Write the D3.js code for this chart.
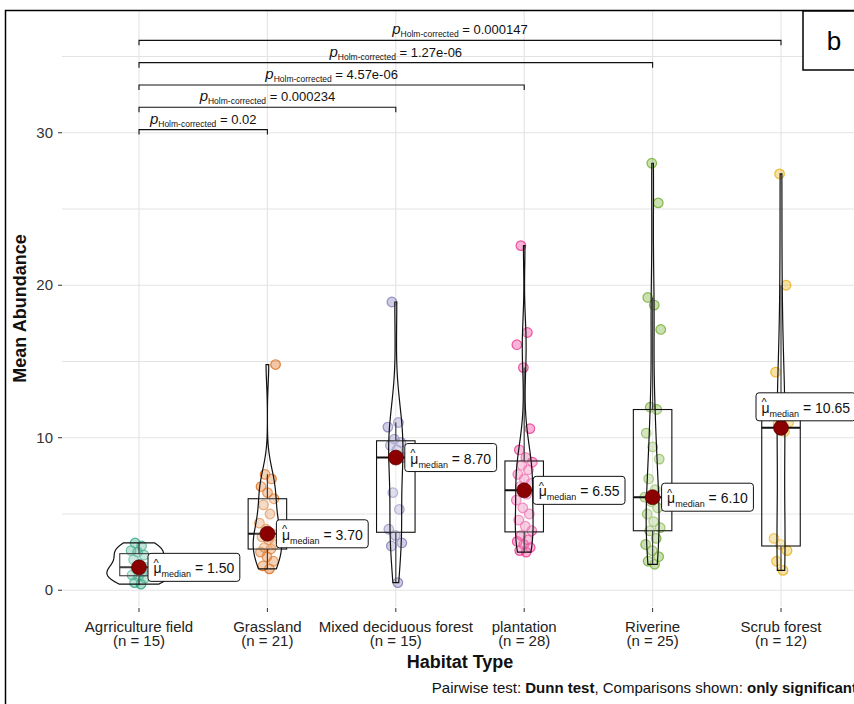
<!DOCTYPE html>
<html>
<head>
<meta charset="utf-8">
<script src="https://cdn.jsdelivr.net/npm/d3@7"></script>
<style>
  body { margin: 0; background: #fff; }
  svg { display: block; font-family: "Liberation Sans", Arial, sans-serif; }
</style>
</head>
<body>
<div id="chart"></div>
<script>
// data

const categories = ['Agrriculture field', 'Grassland', 'Mixed deciduous forest', 'plantation', 'Riverine', 'Scrub forest']

const agriculture = [0.4, 0.5, 0.8, 0.9, 1.0, 1.2, 1.4, 1.5, 1.7, 2.0, 2.3, 2.5, 2.6, 2.9, 3.1]
const grassland = [1.4, 1.6, 1.9, 2.2, 2.5, 2.7, 2.8, 3.0, 3.3, 3.5, 3.7, 4.0, 4.4, 5.0, 5.6, 6.0, 6.4, 6.8, 7.3, 7.6, 14.8]
const mixed = [0.5, 2.9, 3.1, 3.6, 4.0, 5.3, 6.4, 8.7, 9.2, 9.5, 9.7, 9.9, 10.7, 11.0, 18.9]
const plantation = [2.5, 2.6, 2.8, 3.0, 3.2, 3.3, 3.6, 3.9, 4.2, 4.6, 5.0, 5.4, 5.9, 6.3, 6.8, 7.0, 7.3, 7.6, 7.9, 8.2, 8.4, 8.7, 9.2, 10.6, 14.6, 16.1, 16.9, 22.6]
const riverine = [1.7, 1.9, 2.2, 2.6, 3.0, 3.4, 3.9, 4.1, 4.5, 5.0, 5.4, 5.8, 6.1, 6.6, 7.3, 8.6, 9.4, 10.3, 11.85, 12.0, 17.1, 18.7, 19.2, 25.4, 28.0]
const scrub = [1.3, 1.9, 2.6, 3.0, 3.4, 10.4, 10.9, 11.0, 11.2, 14.3, 20.0, 27.3]

const groupValues = [agriculture, grassland, mixed, plantation, riverine, scrub]
const groupColors = ['#1B9E77', '#D95F02', '#7570B3', '#E7298A', '#66A61E', '#E6AB02']

const yTicks = [0, 10, 20, 30]
const yMinorTicks = [5, 15, 25, 35]

// significant pairwise comparisons (Dunn test, Holm corrected)
const pairFrom = [0, 0, 0, 0, 0]
const pairTo = [1, 2, 3, 4, 5]
const pairLabels = ['0.02', '0.000234', '4.57e-06', '1.27e-06', '0.000147']

const WIDTH = 854
const HEIGHT = 704
const PANEL = { left: 62, right: 858, top: 10, bottom: 607 }

let svg = d3.select('#chart')
  .append('svg')
    .attr('width', WIDTH)
    .attr('height', HEIGHT)

let x = d3.scalePoint()
  .domain(categories)
  .range([139, 781])

let step = x.step()

let y = d3.scaleLinear()
  .domain([-1.1, 38.05])
  .range([PANEL.bottom, PANEL.top])

// grid

let grid = svg.append('g').attr('class', 'grid')

grid.selectAll('.hgrid')
  .data(yTicks.concat(yMinorTicks))
  .enter().append('line')
    .attr('x1', PANEL.left)
    .attr('x2', PANEL.right)
    .attr('y1', (d) => y(d))
    .attr('y2', (d) => y(d))
    .attr('stroke', '#e3e3e3')
    .attr('stroke-width', 1.1)

grid.selectAll('.vgrid')
  .data(categories)
  .enter().append('line')
    .attr('x1', (d) => x(d))
    .attr('x2', (d) => x(d))
    .attr('y1', PANEL.top)
    .attr('y2', PANEL.bottom)
    .attr('stroke', '#e3e3e3')
    .attr('stroke-width', 1.1)

// group statistics

function nrd0(v) {
  let s = d3.deviation(v)
  let iqr = d3.quantile(v, 0.75) - d3.quantile(v, 0.25)
  let lo = Math.min(s, iqr / 1.34)
  if(!lo) lo = s || 1
  return 0.9 * lo * Math.pow(v.length, -0.2)
}

let groups = categories.map((name, i) => {
  let v = groupValues[i].slice().sort(d3.ascending)
  let q1 = d3.quantile(v, 0.25)
  let med = d3.quantile(v, 0.5)
  let q3 = d3.quantile(v, 0.75)
  let iqr = q3 - q1
  let lower = d3.min(v.filter((d) => d >= q1 - 1.5 * iqr))
  let upper = d3.max(v.filter((d) => d <= q3 + 1.5 * iqr))
  let bw = nrd0(v)
  let lo = v[0], hi = v[v.length - 1]
  let density = d3.range(512).map((k) => {
    let t = lo + (hi - lo) * k / 511
    let dens = d3.mean(v, (xi) => Math.exp(-0.5 * ((t - xi) / bw) ** 2)) / (bw * Math.sqrt(2 * Math.PI))
    return [t, dens]
  })
  return { name, i, values: groupValues[i], q1, med, q3, lower, upper, density, color: groupColors[i] }
})

let maxDensity = d3.max(groups, (g) => d3.max(g.density, (d) => d[1]))
let violinHalf = d3.scaleLinear().domain([0, maxDensity]).range([0, step * 0.25])
let boxHalf = step * 0.15

// jittered points

let jitter = (k) => (((k * 0.6180339887) % 1) - 0.5) * 17

let pts = svg.append('g').attr('class', 'points')
groups.forEach((g) => {
  pts.selectAll('.pt-' + g.i)
    .data(g.values)
    .enter().append('circle')
      .attr('cx', (d, k) => x(g.name) + jitter(k + 1))
      .attr('cy', (d) => y(d))
      .attr('r', 4.8)
      .attr('fill', g.color)
      .attr('fill-opacity', 0.35)
      .attr('stroke', g.color)
      .attr('stroke-opacity', 0.75)
      .attr('stroke-width', 1.2)
})

// boxplots

let boxes = svg.append('g').attr('class', 'boxes')
  .selectAll('.box')
  .data(groups)
  .enter().append('g')
    .attr('transform', (d) => 'translate(' + x(d.name) + ',0)')

boxes.append('line')
  .attr('y1', (d) => y(d.q3))
  .attr('y2', (d) => y(d.upper))
  .attr('stroke', '#111')
  .attr('stroke-width', 1.2)
boxes.append('line')
  .attr('y1', (d) => y(d.q1))
  .attr('y2', (d) => y(d.lower))
  .attr('stroke', '#111')
  .attr('stroke-width', 1.2)
boxes.append('rect')
  .attr('x', -boxHalf)
  .attr('width', boxHalf * 2)
  .attr('y', (d) => y(d.q3))
  .attr('height', (d) => y(d.q1) - y(d.q3))
  .attr('fill', 'white')
  .attr('fill-opacity', 0.2)
  .attr('stroke', '#111')
  .attr('stroke-width', 1.1)
boxes.append('line')
  .attr('x1', -boxHalf)
  .attr('x2', boxHalf)
  .attr('y1', (d) => y(d.med))
  .attr('y2', (d) => y(d.med))
  .attr('stroke', '#111')
  .attr('stroke-width', 2)

// violins

let area = d3.area()
  .x0((d) => -violinHalf(d[1]))
  .x1((d) => violinHalf(d[1]))
  .y((d) => y(d[0]))

svg.append('g').attr('class', 'violins')
  .selectAll('path')
  .data(groups)
  .enter().append('path')
    .attr('transform', (d) => 'translate(' + x(d.name) + ',0)')
    .attr('d', (d) => area(d.density) + 'Z')
    .attr('fill', 'white')
    .attr('fill-opacity', 0.2)
    .attr('stroke', '#111')
    .attr('stroke-width', 1.2)

// median points and labels

let fmt2 = d3.format('.2f')

svg.append('g').attr('class', 'medians')
  .selectAll('circle')
  .data(groups)
  .enter().append('circle')
    .attr('cx', (d) => x(d.name))
    .attr('cy', (d) => y(d.med))
    .attr('r', 7.5)
    .attr('fill', '#8B0000')
    .attr('stroke', '#4a0000')
    .attr('stroke-width', 0.6)

let labels = svg.append('g').attr('class', 'median-labels')
groups.forEach((g) => {
  let lg = labels.append('g')
  let rect = lg.append('rect')
    .attr('fill', 'white')
    .attr('stroke', '#111')
    .attr('stroke-width', 1)
    .attr('rx', 3)
  let t = lg.append('text')
    .attr('font-size', 14)
    .attr('fill', '#111')
  t.append('tspan').text('\u03bc')
  t.append('tspan').attr('font-size', 9).attr('dy', 4).text('median')
  t.append('tspan').attr('dy', -4).text(' = ' + fmt2(g.med))
  let hat = lg.append('text')
    .attr('font-size', 11)
    .attr('fill', '#111')
    .text('^')

  let tw = t.node().getComputedTextLength()
  let bw = tw + 11, bh = 28
  let cx = x(g.name), cy = y(g.med)
  let lx = cx + 9, ly = cy - bh / 2
  if(lx + bw > WIDTH) { lx = cx - 25; ly = cy - 7 - bh }
  rect.attr('x', lx).attr('y', ly).attr('width', bw).attr('height', bh)
  t.attr('x', lx + 5.5).attr('y', ly + 20)
  hat.attr('x', lx + 5.5).attr('y', ly + 13.5)
})

// pairwise comparison brackets

let allValues = d3.merge(groupValues)
let dataRange = d3.max(allValues) - d3.min(allValues)
let bracketBase = d3.max(allValues) + 0.08 * dataRange
let bracketStep = 0.053 * dataRange

let brackets = svg.append('g').attr('class', 'brackets')
pairLabels.forEach((lab, k) => {
  let x1 = x(categories[pairFrom[k]])
  let x2 = x(categories[pairTo[k]])
  let by = y(bracketBase + k * bracketStep)
  brackets.append('path')
    .attr('d', 'M' + x1 + ',' + (by + 5) + 'V' + by + 'H' + x2 + 'V' + (by + 5))
    .attr('fill', 'none')
    .attr('stroke', '#111')
    .attr('stroke-width', 1.1)
  let t = brackets.append('text')
    .attr('x', (x1 + x2) / 2)
    .attr('y', by - 6)
    .attr('text-anchor', 'middle')
    .attr('fill', '#111')
  t.append('tspan').attr('font-size', 15).attr('font-style', 'italic').text('p')
  t.append('tspan').attr('font-size', 8.5).attr('dy', 3).text('Holm-corrected')
  t.append('tspan').attr('font-size', 13).attr('dy', -3).text(' = ' + lab)
})

// axes

let axes = svg.append('g').attr('class', 'axes')

axes.selectAll('.ytick')
  .data(yTicks)
  .enter().append('line')
    .attr('x1', PANEL.left - 4)
    .attr('x2', PANEL.left)
    .attr('y1', (d) => y(d))
    .attr('y2', (d) => y(d))
    .attr('stroke', '#333')

axes.selectAll('.ylab')
  .data(yTicks)
  .enter().append('text')
    .attr('x', PANEL.left - 9)
    .attr('y', (d) => y(d))
    .attr('dy', '0.35em')
    .attr('text-anchor', 'end')
    .attr('font-size', 15)
    .attr('fill', '#333')
    .text((d) => d)

axes.selectAll('.xtick')
  .data(categories)
  .enter().append('line')
    .attr('x1', (d) => x(d))
    .attr('x2', (d) => x(d))
    .attr('y1', PANEL.bottom + 1)
    .attr('y2', PANEL.bottom + 5)
    .attr('stroke', '#333')

let xl = axes.selectAll('.xlab')
  .data(groups)
  .enter().append('text')
    .attr('text-anchor', 'middle')
    .attr('font-size', 15)
    .attr('fill', '#222')
xl.append('tspan')
  .attr('x', (d) => x(d.name))
  .attr('y', 632)
  .text((d) => d.name)
xl.append('tspan')
  .attr('x', (d) => x(d.name))
  .attr('y', 646)
  .text((d) => '(n = ' + d.values.length + ')')

svg.append('text')
  .attr('x', (PANEL.left + PANEL.right) / 2)
  .attr('y', 668)
  .attr('text-anchor', 'middle')
  .attr('font-size', 18)
  .attr('font-weight', 'bold')
  .attr('fill', '#111')
  .text('Habitat Type')

svg.append('text')
  .attr('transform', 'translate(26,' + ((PANEL.top + PANEL.bottom) / 2) + ') rotate(-90)')
  .attr('text-anchor', 'middle')
  .attr('font-size', 18)
  .attr('font-weight', 'bold')
  .attr('fill', '#111')
  .text('Mean Abundance')

let cap = svg.append('text')
  .attr('x', 857)
  .attr('y', 693)
  .attr('text-anchor', 'end')
  .attr('font-size', 15)
  .attr('fill', '#111')
cap.append('tspan').text('Pairwise test: ')
cap.append('tspan').attr('font-weight', 'bold').text('Dunn test')
cap.append('tspan').text(', Comparisons shown: ')
cap.append('tspan').attr('font-weight', 'bold').text('only significant')

// outer frame and panel tag

svg.append('rect')
  .attr('x', 5.5)
  .attr('y', 10.5)
  .attr('width', 900)
  .attr('height', 800)
  .attr('fill', 'none')
  .attr('stroke', '#000')
  .attr('stroke-width', 1.5)

svg.append('rect')
  .attr('x', 803)
  .attr('y', 11)
  .attr('width', 60)
  .attr('height', 59)
  .attr('fill', 'white')
  .attr('stroke', '#000')
  .attr('stroke-width', 1.5)

svg.append('text')
  .attr('x', 834)
  .attr('y', 50)
  .attr('text-anchor', 'middle')
  .attr('font-size', 26)
  .attr('fill', '#000')
  .text('b')
</script>
</body>
</html>
